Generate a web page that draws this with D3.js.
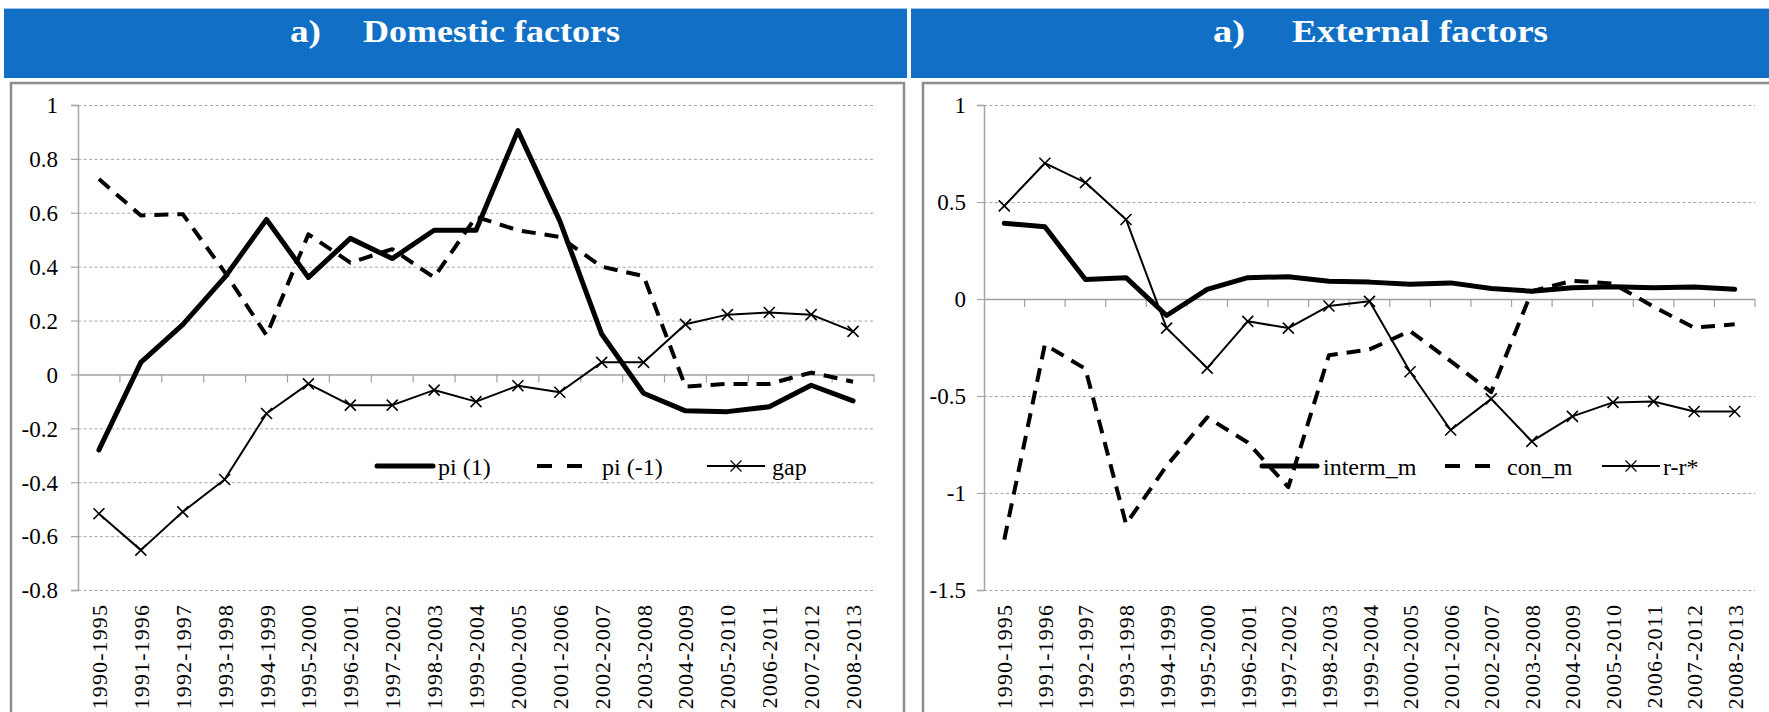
<!DOCTYPE html>
<html><head><meta charset="utf-8">
<script src="https://cdn.jsdelivr.net/npm/d3@7"></script>
<style>
html,body{margin:0;padding:0;background:#fff;overflow:hidden}
svg text{font-family:"Liberation Serif",serif;}
</style>
</head><body><svg id="c" width="1769" height="712"></svg>
<script>
// ---------- data ----------
const categories = ["1990-1995","1991-1996","1992-1997","1993-1998","1994-1999","1995-2000","1996-2001","1997-2002","1998-2003","1999-2004","2000-2005","2001-2006","2002-2007","2003-2008","2004-2009","2005-2010","2006-2011","2007-2012","2008-2013"];

// Domestic factors
const piLead = [-0.28, 0.045, 0.185, 0.36, 0.575, 0.36, 0.505, 0.43, 0.535, 0.535, 0.905, 0.57, 0.15, -0.07, -0.135, -0.138, -0.12, -0.04, -0.098];
const piLag  = [0.725, 0.59, 0.595, 0.38, 0.145, 0.52, 0.415, 0.465, 0.36, 0.585, 0.535, 0.51, 0.40, 0.365, -0.045, -0.035, -0.035, 0.007, -0.027];
const gapVals = [-0.517, -0.652, -0.51, -0.39, -0.145, -0.035, -0.114, -0.114, -0.058, -0.101, -0.042, -0.066, 0.045, 0.045, 0.186, 0.222, 0.23, 0.222, 0.16];
const domesticTicks = [1, 0.8, 0.6, 0.4, 0.2, 0, -0.2, -0.4, -0.6, -0.8];
const domesticNames = ["pi (1)", "pi (-1)", "gap"];

// External factors
const intermM = [0.39, 0.372, 0.10, 0.11, -0.085, 0.05, 0.11, 0.115, 0.092, 0.087, 0.076, 0.083, 0.054, 0.04, 0.058, 0.063, 0.058, 0.062, 0.05];
const conM    = [-1.24, -0.235, -0.36, -1.16, -0.86, -0.61, -0.74, -0.97, -0.29, -0.26, -0.165, -0.32, -0.48, 0.04, 0.094, 0.08, -0.04, -0.148, -0.13];
const rGap    = [0.48, 0.70, 0.60, 0.41, -0.15, -0.356, -0.115, -0.15, -0.036, -0.012, -0.375, -0.675, -0.515, -0.734, -0.605, -0.533, -0.528, -0.58, -0.58];
const externalTicks = [1, 0.5, 0, -0.5, -1, -1.5];
const externalNames = ["interm_m", "con_m", "r-r*"];

const titles = ["Domestic factors", "External factors"];

// ---------- drawing ----------
const svg = d3.select("#c");
const FONT = '"Liberation Serif", serif';
const BLUE = "#1170c6";

function txt(sel) { return sel.style("font-family", FONT); }

// headers
const headers = [
  {x: 4, w: 903, ax: 290, aw: 31, tx: 363, tw: 257},
  {x: 911, w: 870, ax: 1213, aw: 32, tx: 1292, tw: 256}
];
headers.forEach((h, i) => {
  svg.append("rect").attr("x", h.x).attr("y", 9).attr("width", h.w).attr("height", 69).attr("fill", BLUE);
  svg.append("line").attr("x1", h.x).attr("x2", h.x + h.w).attr("y1", 8.5).attr("y2", 8.5)
     .attr("stroke", "#9cc3e8").attr("stroke-width", 1);
  txt(svg.append("text")).attr("x", h.ax).attr("y", 42).attr("fill", "#fff")
     .attr("font-weight", "bold").attr("font-size", 31)
     .attr("textLength", h.aw).attr("lengthAdjust", "spacingAndGlyphs").text("a)");
  txt(svg.append("text")).attr("x", h.tx).attr("y", 42).attr("fill", "#fff")
     .attr("font-weight", "bold").attr("font-size", 31)
     .attr("textLength", h.tw).attr("lengthAdjust", "spacingAndGlyphs").text(titles[i]);
});

// panel frames
[{x: 11, w: 893}, {x: 923, w: 900}].forEach(p => {
  svg.append("rect").attr("x", p.x).attr("y", 83).attr("width", p.w).attr("height", 700)
     .attr("fill", "#fff").attr("stroke", "#8c8c8c").attr("stroke-width", 2.5);
});

function panel(cfg) {
  const g = svg.append("g");
  const x = d3.scaleBand().domain(categories).range([cfg.x0, cfg.x1]).padding(0);
  const y = d3.scaleLinear().domain(cfg.domain).range([590, 105]);
  const cx = c => x(c) + x.bandwidth() / 2;

  // gridlines via axis
  const grid = g.append("g").attr("transform", `translate(${cfg.x0},0)`)
    .call(d3.axisLeft(y).tickValues(cfg.ticks).tickSize(-(cfg.x1 - cfg.x0)).tickFormat(""));
  grid.select(".domain").remove();
  grid.selectAll(".tick line").attr("stroke", "#a6a6a6").attr("stroke-width", 1).attr("stroke-dasharray", "3,2.5")
      .filter(d => d === 0).attr("stroke-dasharray", null).attr("stroke", "#a0a0a0").attr("stroke-width", 1.5);

  // y axis with labels
  const ya = g.append("g").attr("transform", `translate(${cfg.x0},0)`)
    .call(d3.axisLeft(y).tickValues(cfg.ticks).tickSize(7).tickPadding(12).tickFormat(d => String(d)));
  ya.attr("font-family", null);
  ya.select(".domain").attr("stroke", "#a6a6a6").attr("stroke-width", 1.5);
  ya.selectAll(".tick line").attr("stroke", "#a6a6a6").attr("stroke-width", 1.2);
  txt(ya.selectAll(".tick text")).attr("font-size", 23).attr("fill", "#000")
    .attr("x", -(cfg.x0 - cfg.labelRight)).attr("dy", "0.34em");

  // category ticks on zero line
  const bounds = d3.range(1, categories.length + 1).map(i => cfg.x0 + i * x.bandwidth());
  g.append("g").selectAll("line").data(bounds).join("line")
    .attr("x1", d => d).attr("x2", d => d).attr("y1", y(0)).attr("y2", y(0) + 8)
    .attr("stroke", "#a0a0a0").attr("stroke-width", 1.2);

  // category labels (rotated)
  txt(g.append("g").selectAll("text").data(categories).join("text"))
    .attr("transform", d => `translate(${cx(d) + 8},604) rotate(-90)`)
    .attr("text-anchor", "end").attr("font-size", 22)
    .attr("letter-spacing", "1.1px").attr("fill", "#000").text(d => d);

  // series
  const line = d3.line().x((d, i) => cx(categories[i])).y(d => y(d));
  const [s1, s2, s3] = cfg.series;
  g.append("path").datum(s1).attr("d", line).attr("fill", "none").attr("stroke", "#000")
    .attr("stroke-width", 5).attr("stroke-linejoin", "round").attr("stroke-linecap", "round");
  g.append("path").datum(s2).attr("d", line).attr("fill", "none").attr("stroke", "#000")
    .attr("stroke-width", 4).attr("stroke-dasharray", "14,9").attr("stroke-linejoin", "round");
  g.append("path").datum(s3).attr("d", line).attr("fill", "none").attr("stroke", "#000")
    .attr("stroke-width", 2).attr("stroke-linejoin", "round");
  g.append("g").selectAll("path").data(s3).join("path")
    .attr("transform", (d, i) => `translate(${cx(categories[i])},${y(d)})`)
    .attr("d", "M-5.5,-5.5L5.5,5.5M-5.5,5.5L5.5,-5.5").attr("stroke", "#000").attr("stroke-width", 1.6);

  // legend
  const L = cfg.legend, ly = 466;
  const lg = g.append("g");
  lg.append("line").attr("x1", L[0][0]).attr("x2", L[0][1]).attr("y1", ly).attr("y2", ly)
    .attr("stroke", "#000").attr("stroke-width", 5).attr("stroke-linecap", "round");
  lg.append("line").attr("x1", L[1][0]).attr("x2", L[1][1]).attr("y1", ly).attr("y2", ly)
    .attr("stroke", "#000").attr("stroke-width", 4).attr("stroke-dasharray", "15,15");
  lg.append("line").attr("x1", L[2][0]).attr("x2", L[2][1]).attr("y1", ly).attr("y2", ly)
    .attr("stroke", "#000").attr("stroke-width", 2);
  const mx = (L[2][0] + L[2][1]) / 2;
  lg.append("path").attr("transform", `translate(${mx},${ly})`)
    .attr("d", "M-5.5,-5.5L5.5,5.5M-5.5,5.5L5.5,-5.5").attr("stroke", "#000").attr("stroke-width", 1.2);
  cfg.names.forEach((n, i) => {
    txt(lg.append("text")).attr("x", L[i][2]).attr("y", 475)
      .attr("font-size", 24).attr("fill", "#000").text(n);
  });
}

panel({x0: 78, x1: 874, labelRight: 58, domain: [-0.8, 1], ticks: domesticTicks,
  series: [piLead, piLag, gapVals], names: domesticNames,
  legend: [[377, 433, 438], [537, 583, 602], [707, 765, 772]]});
panel({x0: 984, x1: 1755, labelRight: 966, domain: [-1.5, 1], ticks: externalTicks,
  series: [intermM, conM, rGap], names: externalNames,
  legend: [[1262, 1317, 1323], [1445, 1490, 1507], [1602, 1660, 1663]]});
</script>
</body></html>
